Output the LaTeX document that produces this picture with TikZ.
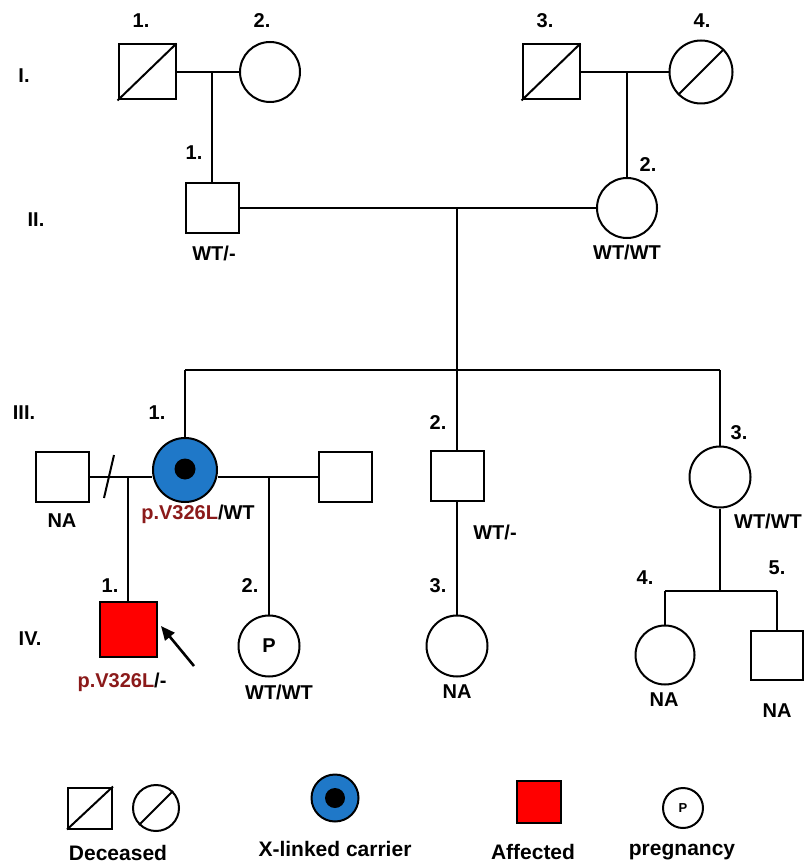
\documentclass[tikz,border=0pt]{standalone}
\usepackage{fontspec}
\setmainfont{Liberation Sans}
\usepackage{xcolor}
\usepackage{tikz}
\usetikzlibrary{positioning, arrows.meta}
\definecolor{carrierblue}{HTML}{1F78C8}
\definecolor{affred}{HTML}{FF0000}
\definecolor{varred}{HTML}{8B1A1A}

\begin{document}
\begin{tikzpicture}[
  x=1pt, y=-1pt, line width=2pt,
  male/.style={draw, rectangle, fill=white, minimum width=53pt, minimum height=50pt, inner sep=0pt},
  female/.style={draw, circle, fill=white, minimum size=61pt, inner sep=0pt},
  lbl/.style={inner sep=0pt},
  arr/.style={-{Triangle[length=14pt, width=12pt]}, line width=2.6pt},
  every node/.style={font=\fontsize{20}{24}\selectfont\bfseries}
]
  \useasboundingbox (0,0) rectangle (805,866);
  \fill[white] (0,0) rectangle (805,866);

  % Generation labels
  \node[lbl] (genI) at (24,76) {I.};
  \node[lbl] (genII) at (36,220) {II.};
  \node[lbl] (genIII) at (24,413) {III.};
  \node[lbl] (genIV) at (30,639) {IV.};

  % Generation I
  \node[male, minimum width=57pt, minimum height=55pt] (I1) at (147,72) {};
  \node[female, minimum size=60pt] (I2) at (270,72) {};
  \node[male, minimum width=57pt, minimum height=55pt] (I3) at (551,72) {};
  \node[female, minimum size=63pt] (I4) at (701,72) {};
  \draw (I1.south west) -- (I1.north east);
  \draw (I3.south west) -- (I3.north east);
  \draw (I4.south west) -- (I4.north east);
  \node[lbl] (nI1) at (141,21) {1.};
  \node[lbl] (nI2) at (262,21) {2.};
  \node[lbl] (nI3) at (545,21) {3.};
  \node[lbl] (nI4) at (702,21) {4.};

  % Generation II
  \node[male] (II1) at (212,208) {};
  \node[female, minimum size=60pt] (II2) at (627,208) {};
  \node[lbl] (nII1) at (194,153) {1.};
  \node[lbl] (nII2) at (648,165) {2.};
  \node[lbl] (gII1) at (214,253) {WT/-};
  \node[lbl] (gII2) at (627,252) {WT/WT};

  % Generation III
  \node[male] (sp1) at (62,477) {};
  \node[female, fill=carrierblue, minimum size=64pt] (III1) at (185,470) {};
  \node[circle, fill=black, minimum size=21pt, inner sep=0pt] (III1c) at (185,469) {};
  \node[male] (sp2) at (345,477) {};
  \node[male] (III2) at (457,476) {};
  \node[female] (III3) at (720,477) {};
  \node[lbl] (nIII1) at (157,413) {1.};
  \node[lbl] (nIII2) at (438,423) {2.};
  \node[lbl] (nIII3) at (739,433) {3.};
  \node[lbl] (gsp1) at (62,521) {NA};
  \node[lbl] (gIII1) at (198,514) {\textcolor{varred}{p.V326L}/WT};
  \node[lbl] (gIII2) at (495,532) {WT/-};
  \node[lbl] (gIII3) at (768,521) {WT/WT};

  % Generation IV
  \node[male, fill=affred, minimum width=57pt, minimum height=55pt] (IV1) at (128,629) {};
  \node[female] (IV2) at (269,646) {P};
  \node[female] (IV3) at (457,646) {};
  \node[female, minimum size=59pt] (IV4) at (665,655) {};
  \node[male, minimum width=52pt, minimum height=49pt] (IV5) at (777,655) {};
  \node[lbl] (nIV1) at (110,586) {1.};
  \node[lbl] (nIV2) at (250,586) {2.};
  \node[lbl] (nIV3) at (438,586) {3.};
  \node[lbl] (nIV4) at (645,578) {4.};
  \node[lbl] (nIV5) at (777,568) {5.};
  \node[lbl] (gIV1) at (122,682) {\textcolor{varred}{p.V326L}/-};
  \node[lbl] (gIV2) at (279,692) {WT/WT};
  \node[lbl] (gIV3) at (457,692) {NA};
  \node[lbl] (gIV4) at (664,700) {NA};
  \node[lbl] (gIV5) at (777,711) {NA};

  % Lines of descent
  \coordinate (m1) at (212,72);
  \coordinate (m2) at (627,72);
  \coordinate (m3) at (457,208);
  \coordinate (s3) at (457,370);
  \coordinate (s4) at (720,591);
  \coordinate (d1) at (114,455);
  \coordinate (d2) at (104,498);
  \draw (I1.east) -- (I2.west);
  \draw (m1) -- (II1.north);
  \draw (I3.east) -- (I4.west);
  \draw (m2) -- (II2.north);
  \draw (II1.east) -- (II2.west);
  \draw (m3) -- (s3);
  \draw (III1.north |- s3) -- (III3.north |- s3);
  \draw (III1.north |- s3) -- (III1.north);
  \draw (s3) -- (III2.north);
  \draw (III3.north |- s3) -- (III3.north);
  \draw (sp1.east) -- (sp1.east -| III1.west);
  \draw (d1) -- (d2);
  \draw (sp2.west -| III1.east) -- (sp2.west);
  \draw (IV1.north |- sp1.east) -- (IV1.north);
  \draw (IV2.north |- sp2.west) -- (IV2.north);
  \draw (III2.south) -- (IV3.north);
  \draw (III3.south) -- (s4);
  \draw (IV4.north |- s4) -- (IV5.north |- s4);
  \draw (IV4.north |- s4) -- (IV4.north);
  \draw (IV5.north |- s4) -- (IV5.north);

  % Proband arrow
  \coordinate (a1) at (194,666);
  \coordinate (a2) at (161,626);
  \draw[arr] (a1) -- (a2);

  % Legend
  \node[male, minimum width=44pt, minimum height=41pt] (Lmale) at (90,808) {};
  \node[female, minimum size=46pt] (Lfem) at (156,808) {};
  \draw (Lmale.south west) -- (Lmale.north east);
  \draw (Lfem.south west) -- (Lfem.north east);
  \node[female, fill=carrierblue, minimum size=47pt] (Lcar) at (335,798) {};
  \node[circle, fill=black, minimum size=20pt, inner sep=0pt] (Lcarc) at (335,798) {};
  \node[male, fill=affred, minimum width=44pt, minimum height=42pt] (Laff) at (539,802) {};
  \node[female, minimum size=40pt, font=\fontsize{13}{15}\selectfont\bfseries] (Lpreg) at (683,808) {P};
  \node[lbl, font=\fontsize{21}{25}\selectfont\bfseries] (tLdec) at (118,853) {Deceased};
  \node[lbl, font=\fontsize{21}{25}\selectfont\bfseries] (tLcar) at (335,849) {X-linked carrier};
  \node[lbl, font=\fontsize{21}{25}\selectfont\bfseries] (tLaff) at (533,852) {Affected};
  \node[lbl, font=\fontsize{21}{25}\selectfont\bfseries] (tLpreg) at (682,852) {pregnancy};
\end{tikzpicture}
\end{document}
